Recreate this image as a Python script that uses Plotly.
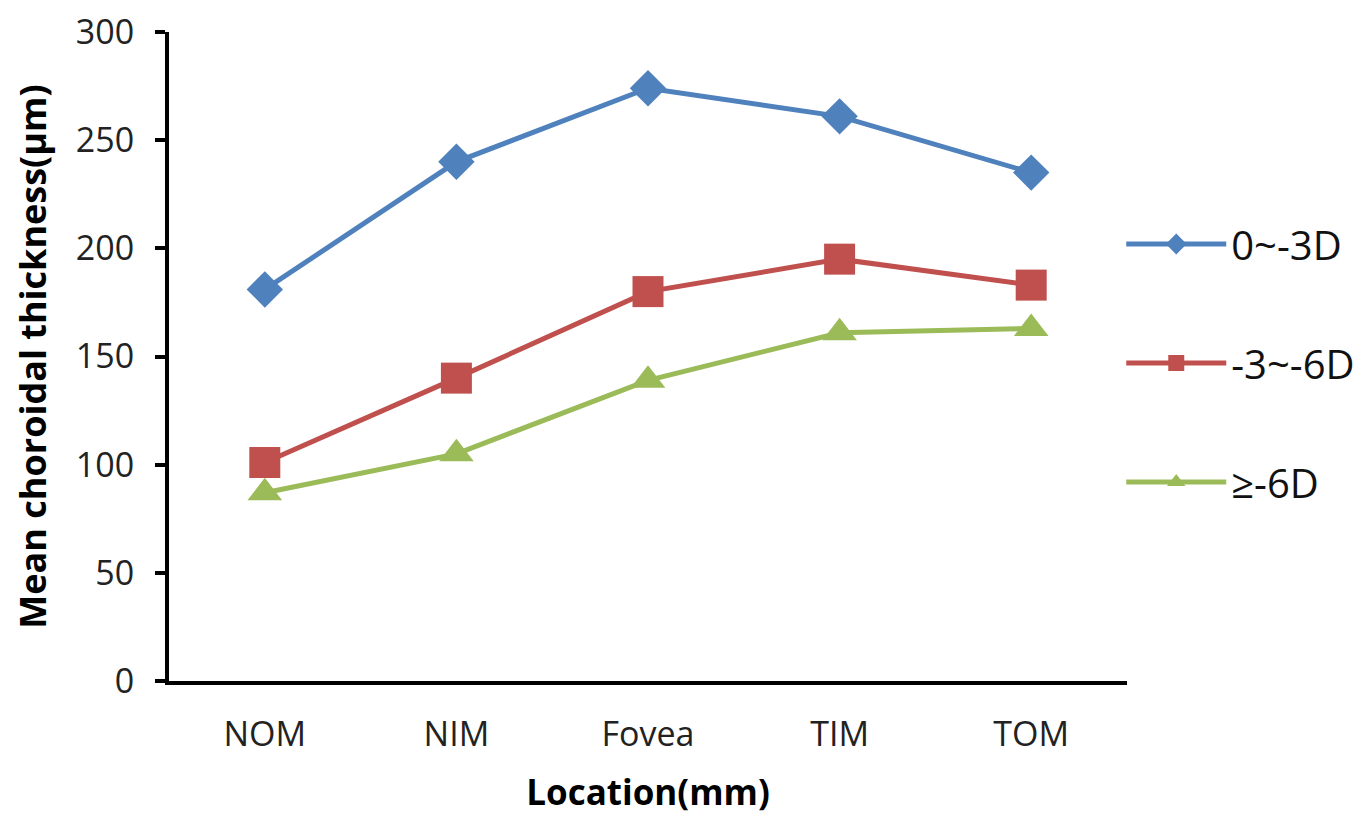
import plotly.graph_objects as go

locations = ["NOM", "NIM", "Fovea", "TIM", "TOM"]
s_0_3 = [181, 240, 274, 261, 235]
s_3_6 = [101, 140, 180, 195, 183]
s_6 = [87, 105, 139, 161, 163]

series_names = ["0~-3D", "-3~-6D", "≥-6D"]
colors = ["#4F81BD", "#C0504D", "#9BBB59"]
symbols = ["diamond", "square", "triangle-up"]
sizes = [28, 31, 30]

FONT = "Open Sans"

fig = go.Figure()
for i, (name, vals) in enumerate(zip(series_names, [s_0_3, s_3_6, s_6])):
    fig.add_trace(go.Scatter(
        x=locations, y=vals, name=name, mode="lines+markers",
        line=dict(color=colors[i], width=5),
        marker=dict(symbol=symbols[i], size=sizes[i], color=colors[i]),
        legendgroup=name,
    ))

fig.update_layout(
    width=1355, height=807,
    paper_bgcolor="white", plot_bgcolor="white",
    margin=dict(l=161, r=236, t=24, b=134, autoexpand=False),
    font=dict(family=FONT, color="#222222"),
    showlegend=True,
    legend=dict(
        x=0.994, xanchor="left", y=0.49, yanchor="middle",
        font=dict(size=40, family=FONT, color="#111111"),
        tracegroupgap=64, itemwidth=100,
        bgcolor="rgba(0,0,0,0)",
    ),
    xaxis=dict(
        type="category", range=[-0.5, 4.5], automargin=False,
        showline=True, linecolor="black", linewidth=4,
        showgrid=False, ticks="", zeroline=False,
        tickfont=dict(size=34, family=FONT, color="#222222"),
        ticklabelstandoff=20, ticklabeloverflow="allow",
        title=dict(text="<b>Location(mm)</b>", font=dict(size=35, family=FONT, color="black"), standoff=29),
    ),
    yaxis=dict(
        range=[0, 300], tickvals=[0, 50, 100, 150, 200, 250, 300], automargin=False,
        showline=True, linecolor="black", linewidth=4,
        showgrid=False, zeroline=False,
        ticks="outside", ticklen=10, tickwidth=4, tickcolor="black",
        tickfont=dict(size=34, family=FONT, color="#222222"),
        ticklabelstandoff=14, ticklabeloverflow="allow",
        title=dict(text="<b>Mean choroidal thickness(μm)</b>", font=dict(size=36, family=FONT, color="black"), standoff=28),
    ),
)

fig.write_html("out.html")
